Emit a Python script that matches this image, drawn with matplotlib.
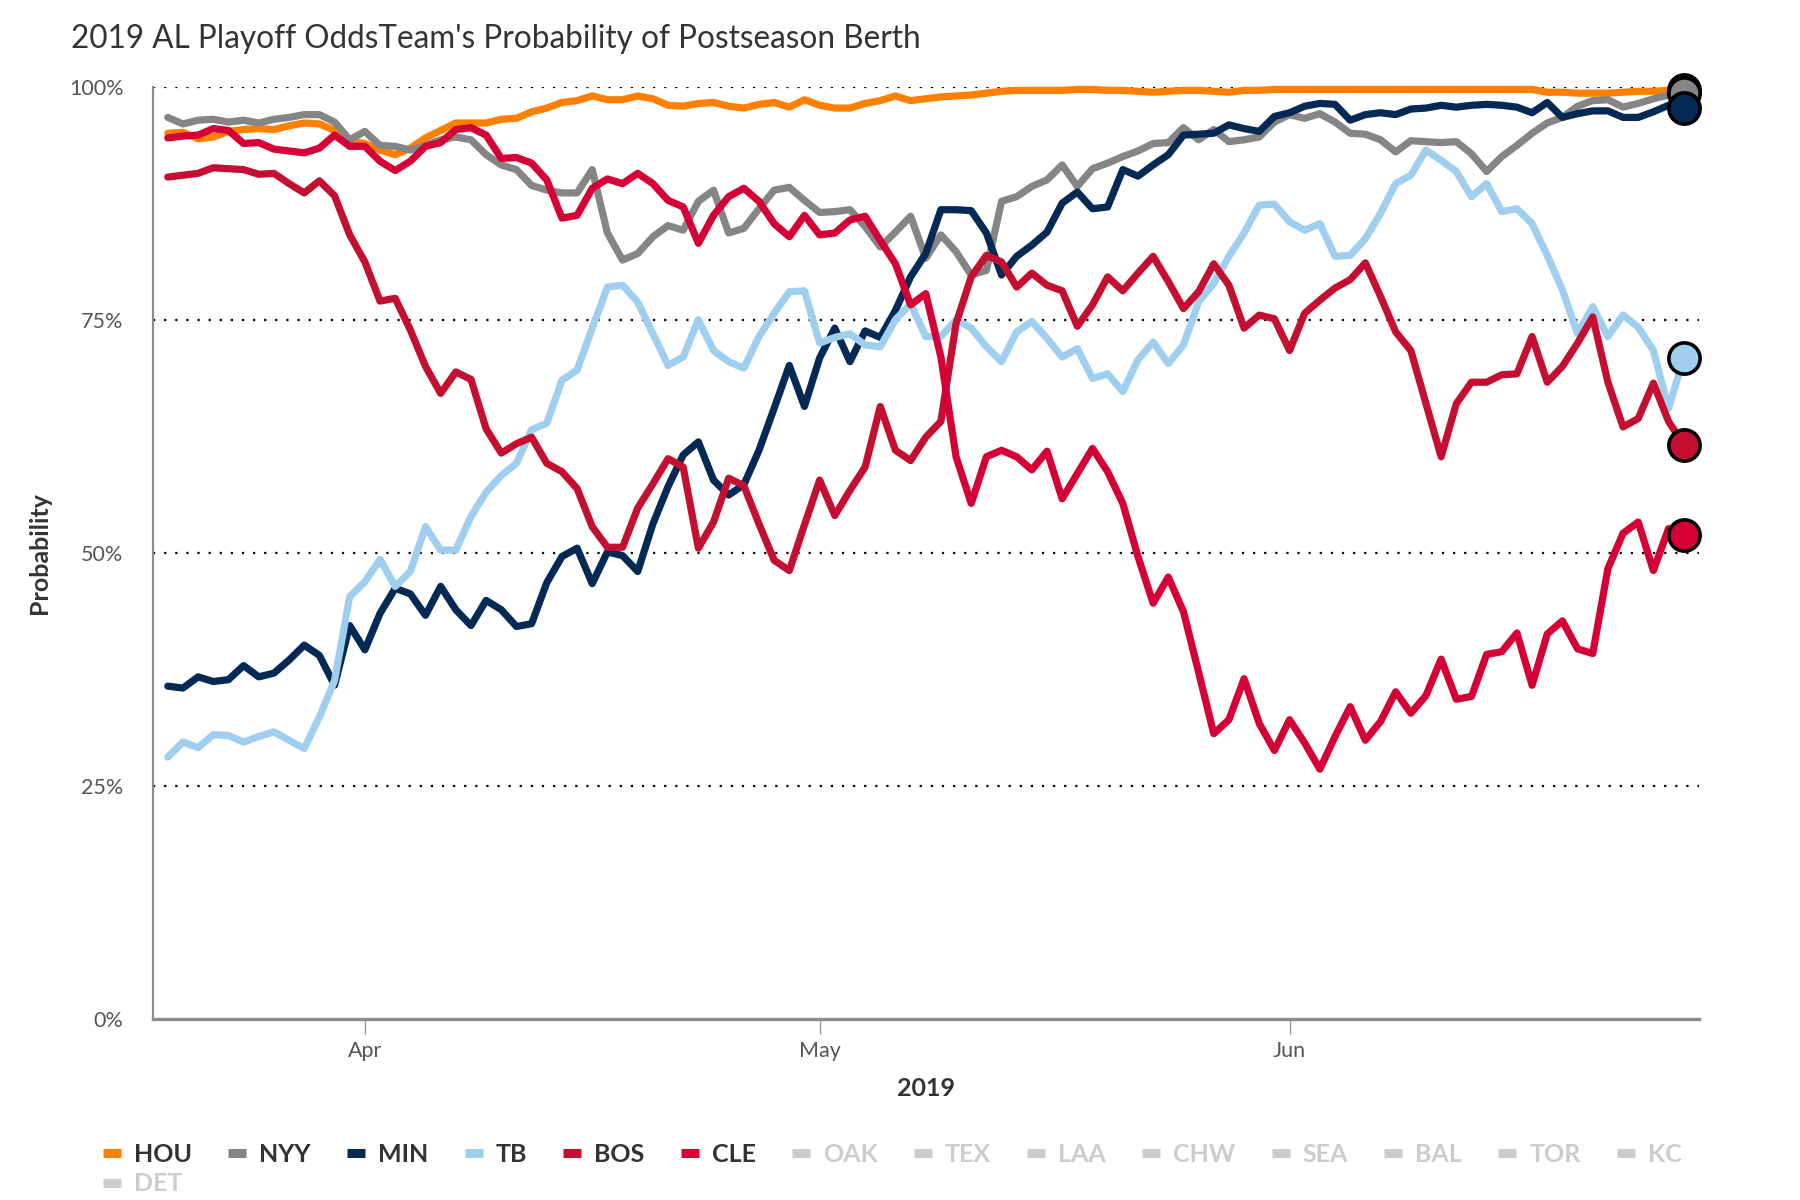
import numpy as np
import matplotlib
matplotlib.use("Agg")
import matplotlib.pyplot as plt
from matplotlib.lines import Line2D

plt.rcParams['font.family'] = ['Lato', 'DejaVu Sans']

# daily values, 2019-03-19 .. 2019-06-27
dates = np.arange(np.datetime64('2019-03-19'), np.datetime64('2019-06-28'))

hou = [95.0, 95.1, 94.4, 94.6, 95.2, 95.4, 95.5, 95.4, 95.8, 96.1, 96.0, 95.3, 94.1, 93.9, 93.2, 92.7, 93.4,
       94.5, 95.3, 96.1, 96.1, 96.1, 96.5, 96.6, 97.3, 97.7,
       98.3, 98.5, 99.0, 98.6, 98.6, 99.0, 98.7, 98.0, 97.9, 98.2, 98.3, 97.9, 97.7, 98.1, 98.3, 97.8, 98.6,
       98.0, 97.7, 97.7, 98.2, 98.5, 99.0, 98.5, 98.7,
       98.9, 99.0, 99.1, 99.3, 99.5, 99.6, 99.6, 99.6, 99.6, 99.7, 99.7, 99.6, 99.6, 99.5, 99.4, 99.5, 99.6,
       99.6, 99.5, 99.4, 99.6, 99.6, 99.7, 99.7, 99.7, 99.7,
       99.7, 99.7, 99.7, 99.7, 99.7, 99.7, 99.7, 99.7, 99.7, 99.7, 99.7, 99.7, 99.7, 99.7,
       99.4, 99.4, 99.3, 99.3, 99.3, 99.4, 99.5, 99.5, 99.6, 99.6]

nyy = [96.7, 96.0, 96.4, 96.5, 96.2, 96.4, 96.1, 96.5, 96.7, 97.0, 97.0, 96.2, 94.3, 95.2, 93.7, 93.6, 93.2,
       93.7, 94.3, 94.6, 94.3, 92.7, 91.6, 91.1, 89.4, 88.9,
       88.6, 88.6, 91.1, 84.3, 81.4, 82.1, 83.9, 85.1, 84.6, 87.7, 88.9, 84.3, 84.8, 86.9, 88.9, 89.2, 87.8,
       86.5, 86.6, 86.8, 85.0, 82.8, 84.4, 86.1, 81.6,
       84.1, 82.3, 79.8, 80.3, 87.7, 88.2, 89.3, 90.0, 91.6, 89.3, 91.2, 91.8, 92.5, 93.1, 93.9, 94.0, 95.6,
       94.3, 95.4, 94.1, 94.3, 94.6, 96.2, 97.0, 96.6, 97.1,
       96.2, 95.0, 94.9, 94.3, 93.0, 94.2, 94.1, 94.0, 94.1, 92.8, 90.9, 92.5, 93.7, 95.0, 96.1, 96.7, 97.9,
       98.5, 98.6, 97.8, 98.2, 98.7, 99.1, 99.3]

min_ = [35.7, 35.5, 36.7, 36.2, 36.4, 37.9, 36.7, 37.1, 38.5, 40.1, 39.0, 35.8, 42.2, 39.6, 43.5, 46.2, 45.6,
        43.3, 46.4, 43.9, 42.2, 44.9, 43.9, 42.1, 42.4, 46.8,
        49.6, 50.5, 46.7, 50.1, 49.7, 48.0, 53.1, 57.1, 60.5, 61.9, 57.8, 56.2, 57.3, 61.0, 65.5, 70.1, 65.7,
        70.9, 74.1, 70.5, 73.8, 73.1, 76.0, 79.6, 82.1,
        86.8, 86.8, 86.7, 84.3, 79.8, 81.8, 83.0, 84.4, 87.5, 88.7, 86.9, 87.1, 91.1, 90.4, 91.6, 92.7, 94.8,
        94.9, 95.0, 95.9, 95.5, 95.2, 96.8, 97.2, 97.9, 98.2,
        98.1, 96.4, 97.0, 97.2, 97.0, 97.6, 97.7, 98.0, 97.8, 98.0, 98.1, 98.0, 97.8, 97.2, 98.3, 96.7, 97.1,
        97.4, 97.4, 96.7, 96.7, 97.3, 98.0, 97.7]

tb = [28.1, 29.7, 29.1, 30.5, 30.4, 29.7, 30.3, 30.8, 29.9, 29.0, 32.4, 36.3, 45.3, 46.9, 49.3, 46.4, 48.0,
      52.8, 50.3, 50.3, 53.9, 56.5, 58.3, 59.6, 63.2, 63.9,
      68.5, 69.6, 74.1, 78.5, 78.7, 76.9, 73.5, 70.1, 71.0, 75.0, 71.7, 70.5, 69.8, 73.2, 75.7, 78.0, 78.1,
      72.5, 73.1, 73.5, 72.3, 72.1, 75.0, 76.7, 73.2,
      73.2, 75.0, 74.1, 72.1, 70.5, 73.7, 74.8, 73.0, 71.0, 71.9, 68.7, 69.2, 67.3, 70.7, 72.6, 70.3, 72.3,
      76.9, 78.9, 81.8, 84.3, 87.3, 87.4, 85.5, 84.6, 85.3,
      81.8, 81.9, 83.7, 86.4, 89.6, 90.5, 93.2, 92.1, 90.9, 88.2, 89.6, 86.6, 86.9, 85.3, 81.9, 78.2, 73.5,
      76.4, 73.2, 75.5, 74.2, 71.7, 65.5, 70.9]

bos = [90.3, 90.5, 90.7, 91.3, 91.2, 91.1, 90.6, 90.7, 89.6, 88.6, 89.9, 88.3, 84.1, 81.2, 77.0, 77.3, 73.9,
       70.0, 67.1, 69.4, 68.6, 63.3, 60.7, 61.7, 62.4, 59.6,
       58.7, 56.9, 52.8, 50.6, 50.6, 54.8, 57.4, 60.1, 59.2, 50.5, 53.3, 58.0, 57.2, 53.1, 49.2, 48.1, 53.0,
       57.8, 54.0, 56.7, 59.2, 65.7, 61.0, 59.9, 62.4,
       64.1, 74.6, 79.6, 81.9, 81.2, 78.5, 80.0, 78.7, 78.1, 74.3, 76.6, 79.6, 78.1, 80.0, 81.8, 79.1, 76.2,
       78.0, 81.0, 78.7, 74.1, 75.5, 75.1, 71.7, 75.7, 77.1,
       78.4, 79.3, 81.1, 77.5, 73.7, 71.7, 66.0, 60.3, 66.0, 68.3, 68.3, 69.1, 69.2, 73.2, 68.3, 70.0, 72.5,
       75.3, 68.3, 63.5, 64.4, 68.2, 64.1, 61.6]

cle = [94.5, 94.7, 94.8, 95.5, 95.3, 93.9, 94.0, 93.3, 93.1, 92.9, 93.4, 94.8, 93.6, 93.6, 92.0, 91.0, 92.0,
       93.6, 94.0, 95.4, 95.6, 94.8, 92.3, 92.4, 91.8, 90.0,
       85.9, 86.2, 89.1, 90.1, 89.6, 90.7, 89.6, 87.8, 87.1, 83.2, 86.2, 88.2, 89.1, 87.7, 85.3, 83.9, 86.2,
       84.1, 84.3, 85.7, 86.1, 83.5, 81.0, 76.6, 77.8,
       71.0, 60.3, 55.3, 60.3, 61.0, 60.3, 58.9, 60.9, 55.8, 58.5, 61.2, 58.7, 55.3, 49.6, 44.6, 47.4, 43.7,
       37.2, 30.6, 32.1, 36.5, 31.7, 28.8, 32.1, 29.6, 26.8,
       30.3, 33.5, 29.9, 31.9, 35.1, 32.8, 34.7, 38.6, 34.3, 34.6, 39.1, 39.4, 41.4, 35.8, 41.3, 42.7, 39.7,
       39.2, 48.3, 52.1, 53.3, 48.1, 52.6, 51.9]

teams = ['HOU', 'NYY', 'MIN', 'TB', 'BOS', 'CLE']
series = [hou, nyy, min_, tb, bos, cle]
colors = ['#FF8000', '#858585', '#052955', '#9FCEEE', '#C40F31', '#D50036']
hidden = ['OAK', 'TEX', 'LAA', 'CHW', 'SEA', 'BAL', 'TOR', 'KC', 'DET']

fig = plt.figure(figsize=(18, 12), dpi=100)
ax = fig.add_axes([0.0848, 0.1508, 0.859, 0.777])

for y in [25, 50, 75, 100]:
    ax.axhline(y, color='black', lw=1.6, ls=(0, (1, 4)), zorder=1)

for vals, c in zip(series, colors):
    ax.plot(dates, vals, color=c, lw=5.2, solid_joinstyle='round', solid_capstyle='round',
            zorder=3, clip_on=False)
for vals, c in zip(series, colors):
    ax.plot(dates[-1], vals[-1], 'o', ms=22.5, mfc=c, mec='black', mew=2.6, zorder=5, clip_on=False)

ax.set_ylim(0, 100)
ax.set_xlim(np.datetime64('2019-03-18'), np.datetime64('2019-06-28'))
ax.set_yticks([0, 25, 50, 75, 100])
ax.set_yticklabels(['0%', '25%', '50%', '75%', '100%'])
ax.set_xticks([np.datetime64('2019-04-01'), np.datetime64('2019-05-01'), np.datetime64('2019-06-01')])
ax.set_xticklabels(['Apr', 'May', 'Jun'])
ax.tick_params(axis='y', length=0, pad=21, labelsize=15.5, labelcolor='#555555')
ax.tick_params(axis='x', length=11, width=1, color='#999999', pad=5, labelsize=15.5, labelcolor='#555555')

for s in ['top', 'right']:
    ax.spines[s].set_visible(False)
ax.spines['left'].set_color('#8c8c8c')
ax.spines['left'].set_linewidth(1.6)
ax.spines['bottom'].set_color('#8c8c8c')
ax.spines['bottom'].set_linewidth(2.4)

ax.set_xlabel('2019', fontsize=18, fontweight='bold', color='#333333', labelpad=11)
ax.set_ylabel('Probability', fontsize=18, fontweight='bold', color='#333333', labelpad=13)

fig.text(71 / 1800, 1 - 39.5 / 1200, "2019 AL Playoff OddsTeam's Probability of Postseason Berth",
         fontsize=22.7, color='#333333', va='center', ha='left')

# legend: reorder so DET lands on the second row under HOU
names = teams + hidden
cols = colors + ['#cccccc'] * len(hidden)
order = [0, len(names) - 1] + list(range(1, len(names) - 1))
handles = [Line2D([], [], color=cols[i], lw=6.5, solid_capstyle='butt') for i in order]
labels = [names[i] for i in order]
leg = fig.legend(handles, labels, loc='upper left', bbox_to_anchor=(103 / 1800, 1 - 1143 / 1200),
                 ncol=14, frameon=False, fontsize=18, handlelength=0.72, handletextpad=0.52,
                 columnspacing=1.45, labelspacing=0.25, borderaxespad=0, borderpad=0)
for t, i in zip(leg.get_texts(), order):
    t.set_fontweight('bold')
    t.set_color('#333333' if i < len(teams) else '#cccccc')

fig.savefig('out.png', dpi=100)
